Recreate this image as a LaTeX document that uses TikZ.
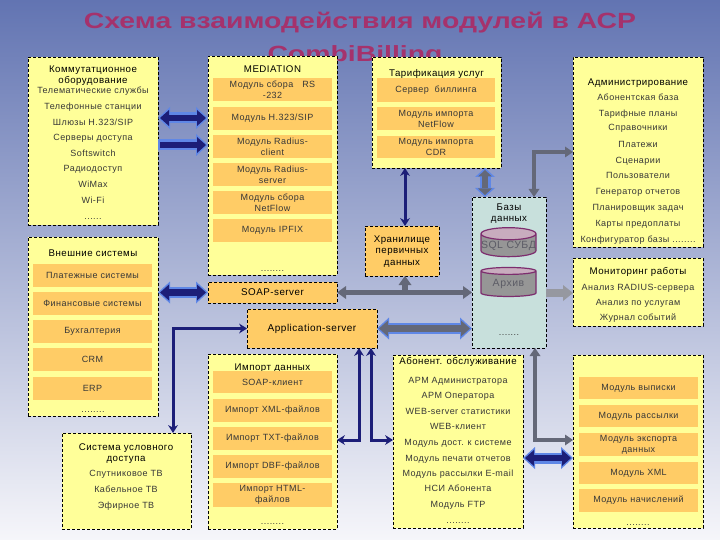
\documentclass[tikz,border=0pt]{standalone}
\usepackage{fontspec}
\setmainfont{Liberation Sans}
\newfontfamily\spfont[LetterSpace=5]{Liberation Sans}
\usepackage{graphicx}
\usetikzlibrary{arrows.meta,shapes.geometric,calc}
\definecolor{bgtop}{RGB}{98,116,178}
\definecolor{bgmid}{RGB}{182,190,220}
\definecolor{bgbot}{RGB}{246,246,250}
\definecolor{ttl}{RGB}{165,50,108}
\definecolor{ylw}{RGB}{255,255,153}
\definecolor{org}{RGB}{255,204,102}
\definecolor{dbfill}{RGB}{200,224,220}
\definecolor{navyc}{RGB}{28,30,120}
\definecolor{lblue}{RGB}{95,135,230}
\definecolor{gline}{RGB}{100,104,120}
\definecolor{glight}{RGB}{150,152,160}
\definecolor{cylout}{RGB}{125,45,110}
\definecolor{cylbody}{RGB}{150,150,150}
\definecolor{cyltop}{RGB}{200,172,190}
\definecolor{itxt}{RGB}{55,55,55}
\newcommand{\itemfont}{\spfont\fontsize{9}{11}\selectfont}
\newcommand{\hdfont}{\spfont\fontsize{9.7}{11}\selectfont}
\tikzset{
  FT/.tip={Triangle[length=12pt,width=22pt,line width=0pt]},
  ft/.tip={Triangle[length=9pt,width=16pt,line width=0pt]},
  FTs/.tip={Triangle[length=9pt,width=20pt,line width=0pt]},
  fts/.tip={Triangle[length=6.5pt,width=14pt,line width=0pt]},
  tipN/.tip={Stealth[length=8pt,width=10pt,line width=0pt]},
  tipG/.tip={Triangle[length=8pt,width=11pt,line width=0pt]},
  tipG2/.tip={Triangle[length=9pt,width=13pt,line width=0pt]},
  tipK/.tip={Triangle[length=10pt,width=16pt,line width=0pt]},
}
\begin{document}
\begin{tikzpicture}[x=1pt,y=-1pt,
  ybox/.style={draw=black, fill=ylw, dash pattern=on 3pt off 2pt, line width=0.8pt, inner sep=0pt, outer sep=0pt, anchor=north west},
  dbbox/.style={ybox, fill=dbfill},
  obox/.style={fill=org, inner sep=0pt, outer sep=0pt, anchor=north west, align=center, font=\itemfont, text=itxt},
  odbox/.style={ybox, fill=org, align=center, font=\hdfont, text=black, anchor=north west},
  txt/.style={font=\itemfont, text=itxt, inner sep=0pt, anchor=base},
  hd/.style={font=\hdfont, text=black, inner sep=0pt, anchor=base},
  ttlf/.style={font=\fontsize{22}{26}\selectfont\bfseries, text=ttl, inner sep=0pt, anchor=base},
  fatout/.style={line width=11pt, draw=lblue},
  fatin/.style={line width=6.5pt, draw=navyc, shorten <=2pt, shorten >=2pt},
  fatgin/.style={line width=6.5pt, draw=gline, shorten <=2pt, shorten >=2pt},
  navyl/.style={line width=3pt, draw=navyc},
  gthick/.style={line width=4pt, draw=gline},
  gmed/.style={line width=5.5pt, draw=gline},
  gfat/.style={line width=8pt, draw=glight},
  cyl/.style={cylinder, shape border rotate=90, aspect=0.22, minimum width=55pt, minimum height=29pt, draw=cylout, line width=1.2pt, cylinder uses custom fill, cylinder body fill=cylbody, cylinder end fill=cyltop, inner sep=0pt, font=\spfont\fontsize{10.5}{12}\selectfont, text={rgb,255:red,92;green,92;blue,102}}
]
\useasboundingbox (0,0) rectangle (720,540);
\shade[top color=bgtop, middle color=bgmid, bottom color=bgbot] (0,0) rectangle (720,540);

% title
\node[ttlf] (t1) at (360,29) {\scalebox{1.29}[1]{Схема взаимодействия модулей в АСР}};
\node[ttlf] (t2) at (355,62) {\scalebox{1.29}[1]{CombiBilling}};

% ---- Коммутационное оборудование
\node[ybox, minimum width=130pt, minimum height=168pt] (komm) at (28,57) {};
\node[hd] (kh1) at (93,72.5) {Коммутатционное};
\node[hd] (kh2) at (93,84) {оборудование};
\foreach \y/\t [count=\i] in {91/{Телематические службы},107/{Телефонные станции},123/{Шлюзы H.323/SIP},138/{Серверы доступа},154/{Softswitch},169/{Радиодоступ},185/{WiMax},201/{Wi-Fi},217/{......}}
  \node[txt] (ka\i) at (93,\y+3) {\t};

% ---- Внешние системы
\node[ybox, minimum width=130pt, minimum height=179pt] (vnesh) at (28,237) {};
\node[hd] (vh) at (93,256.5) {Внешние системы};
\foreach \y/\t [count=\i] in {264/{Платежные системы},292/{Финансовые системы},320/{Бухгалтерия},348/{CRM},377/{ERP}}
  \node[obox, minimum width=119pt, minimum height=23pt] (vi\i) at (33,\y) {\t};
\node[txt] (vdots) at (93,412) {........};

% ---- Система условного доступа
\node[ybox, minimum width=129pt, minimum height=96pt] (sud) at (62,433) {};
\node[hd] (sh1) at (126,450.5) {Система условного};
\node[hd] (sh2) at (126,461.5) {доступа};
\foreach \y/\t [count=\i] in {473/{Спутниковое ТВ},489/{Кабельное ТВ},505/{Эфирное ТВ}}
  \node[txt] (si\i) at (126,\y+3) {\t};

% ---- MEDIATION
\node[ybox, minimum width=129pt, minimum height=219pt] (med) at (208,56) {};
\node[hd] (mh) at (272.5,72.5) {MEDIATION};
\node[obox, minimum width=119pt, minimum height=23pt] (m1) at (213,78) {Модуль сбора\quad RS\\-232};
\node[obox, minimum width=119pt, minimum height=23pt] (m2) at (213,107) {Модуль H.323/SIP};
\node[obox, minimum width=119pt, minimum height=23pt] (m3) at (213,135) {Модуль Radius-\\client};
\node[obox, minimum width=119pt, minimum height=23pt] (m4) at (213,163) {Модуль Radius-\\server};
\node[obox, minimum width=119pt, minimum height=23pt] (m5) at (213,191) {Модуль сбора\\NetFlow};
\node[obox, minimum width=119pt, minimum height=23pt] (m6) at (213,219) {Модуль IPFIX};
\node[txt] (mdots) at (272.5,271) {........};

% ---- SOAP-server
\node[odbox, minimum width=129pt, minimum height=21pt, font=\spfont\fontsize{9.8}{12}\selectfont] (soap) at (208,282) {SOAP-server};

% ---- Application-server
\node[odbox, minimum width=130pt, minimum height=39pt, font=\spfont\fontsize{10}{12}\selectfont] (app) at (247,309) {Application-server};

% ---- Импорт данных
\node[ybox, minimum width=129pt, minimum height=175pt] (imp) at (208,354) {};
\node[hd] (ih) at (272.5,370.5) {Импорт данных};
\node[obox, minimum width=119pt, minimum height=22pt] (i1) at (213,371) {SOAP-клиент};
\node[obox, minimum width=119pt, minimum height=23pt] (i2) at (213,399) {Импорт XML-файлов};
\node[obox, minimum width=119pt, minimum height=23pt] (i3) at (213,427) {Импорт TXT-файлов};
\node[obox, minimum width=119pt, minimum height=23pt] (i4) at (213,455) {Импорт DBF-файлов};
\node[obox, minimum width=119pt, minimum height=24pt] (i5) at (213,483) {Импорт HTML-\\файлов};
\node[txt] (idots) at (272.5,524) {........};

% ---- Тарификация услуг
\node[ybox, minimum width=129pt, minimum height=111pt] (tarif) at (372,57) {};
\node[hd] (th) at (436.5,76.5) {Тарификация услуг};
\node[obox, minimum width=118pt, minimum height=24pt] (tr1) at (377,78) {Сервер\ \ биллинга};
\node[obox, minimum width=118pt, minimum height=23pt] (tr2) at (377,107) {Модуль импорта\\NetFlow};
\node[obox, minimum width=118pt, minimum height=22pt] (tr3) at (377,136) {Модуль импорта\\CDR};

% ---- Хранилище
\node[odbox, minimum width=74pt, minimum height=50pt] (stor) at (365,226) {};
\node[hd] (st1) at (402,242.5) {Хранилище};
\node[hd] (st2) at (402,254) {первичных};
\node[hd] (st3) at (402,265.5) {данных};

% ---- Базы данных
\node[dbbox, minimum width=74pt, minimum height=151pt] (db) at (472,197) {};
\node[hd] (dh1) at (509,210.5) {Базы};
\node[hd] (dh2) at (509,221.5) {данных};
\node[cyl] (sql) at (508.5,245.5) {SQL СУБД};
\node[cyl] (arch) at (508.5,284) {Архив};
\node[txt] (ddots) at (509,335) {.......};

% ---- Администрирование
\node[ybox, minimum width=130pt, minimum height=190pt] (adm) at (573,57) {};
\node[hd] (ah) at (638,85.5) {Администрирование};
\foreach \y/\t [count=\i] in {98/{Абонентская база},114/{Тарифные планы},128/{Справочники},145/{Платежи},161/{Сценарии},176/{Пользователи},192/{Генератор отчетов},208/{Планировщик задач},223/{Карты предоплаты},239/{Конфигуратор базы ........}}
  \node[txt] (ai\i) at (638,\y+3) {\t};

% ---- Мониторинг работы
\node[ybox, minimum width=130pt, minimum height=68pt] (mon) at (573,258) {};
\node[hd] (moh) at (638,274.5) {Мониторинг работы};
\foreach \y/\t [count=\i] in {287/{Анализ RADIUS-сервера},302/{Анализ по услугам},317/{Журнал событий}}
  \node[txt] (mi\i) at (638,\y+3) {\t};

% ---- Абонент. обслуживание
\node[ybox, minimum width=130pt, minimum height=173pt] (abon) at (393,355) {};
\node[hd] (abh) at (458,364.5) {Абонент. обслуживание};
\foreach \y/\t [count=\i] in {380/{АРМ Администратора},395/{АРМ Оператора},411/{WEB-server статистики},426/{WEB-клиент},442/{Модуль дост. к системе},458/{Модуль печати отчетов},473/{Модуль рассылки E-mail},488/{НСИ Абонента},504/{Модуль FTP},520/{........}}
  \node[txt] (abi\i) at (458,\y+3) {\t};

% ---- right bottom box
\node[ybox, minimum width=130pt, minimum height=173pt] (rb) at (573,355) {};
\node[obox, minimum width=119pt, minimum height=22pt] (r1) at (579,377) {Модуль выписки};
\node[obox, minimum width=119pt, minimum height=22pt] (r2) at (579,405) {Модуль рассылки};
\node[obox, minimum width=119pt, minimum height=23pt] (r3) at (579,433) {Модуль экспорта\\данных};
\node[obox, minimum width=119pt, minimum height=22pt] (r4) at (579,462) {Модуль XML};
\node[obox, minimum width=119pt, minimum height=23pt] (r5) at (579,489) {Модуль начислений};
\node[txt] (rdots) at (638,525) {........};

% ---- helper coordinates
\coordinate (ya) at (0,118);
\coordinate (yb) at (0,145);
\coordinate (ye) at (0,440);
\coordinate (yj) at (0,152);
\coordinate (yk) at (0,293);
\coordinate (ym) at (0,458);
\coordinate (xd) at (173,0);
\coordinate (xe1) at (359,0);
\coordinate (xe2) at (371,0);
\coordinate (xh) at (405,0);
\coordinate (xi) at (485,0);
\coordinate (xj) at (534,0);
\coordinate (xl) at (535,0);

% ---- connectors
\draw[fatout, FT-FT] (komm.east |- ya) -- (med.west |- ya);
\draw[fatin, ft-ft] (komm.east |- ya) -- (med.west |- ya);
\draw[fatout, -FT] (komm.east |- yb) -- (med.west |- yb);
\draw[fatin, -ft] (komm.east |- yb) -- (med.west |- yb);
\draw[fatout, FT-FT] (vnesh.east |- soap.west) -- (soap.west);
\draw[fatin, ft-ft] (vnesh.east |- soap.west) -- (soap.west);
\draw[fatout, FT-FT] (abon.east |- ym) -- (rb.west |- ym);
\draw[fatin, ft-ft] (abon.east |- ym) -- (rb.west |- ym);
\draw[fatout, FT-FT] (app.east) -- (db.west |- app.east);
\draw[fatgin, ft-ft] (app.east) -- (db.west |- app.east);
\draw[fatout, FTs-FTs] (tarif.south -| xi) -- (db.north -| xi);
\draw[fatgin, fts-fts] (tarif.south -| xi) -- (db.north -| xi);
\draw[navyl, tipN-tipN] (tarif.south -| xh) -- (stor.north -| xh);
\draw[navyl, tipN-tipN] (app.west) -- (xd |- app.west) -- (sud.north -| xd);
\draw[navyl, tipN-tipN] (app.south -| xe1) -- (xe1 |- ye) -- (imp.east |- ye);
\draw[navyl, tipN-tipN] (app.south -| xe2) -- (xe2 |- ye) -- (abon.west |- ye);
\draw[gmed, tipG2-tipG2] (soap.east) -- (db.west |- soap.east);
\draw[gmed, -tipG2] (xh |- soap.east) -- (stor.south -| xh);
\draw[gthick, tipG-tipG] (db.north -| xj) -- (xj |- yj) -- (adm.west |- yj);
\draw[gfat, -tipK] (db.east |- yk) -- (mon.west |- yk);
\draw[gthick, tipG-tipG] (db.south -| xl) -- (xl |- ye) -- (rb.west |- ye);
\end{tikzpicture}
\end{document}
